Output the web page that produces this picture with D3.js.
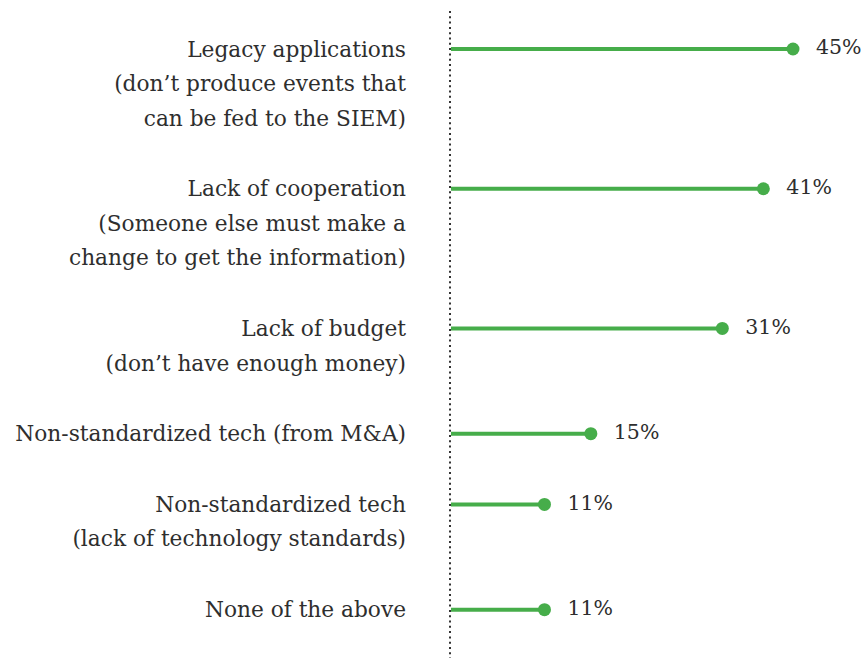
<!DOCTYPE html>
<html>
<head>
<meta charset="utf-8">
<script src="https://cdn.jsdelivr.net/npm/d3@7"></script>
<style>
body { margin: 0; background: #fff; }
text { font-family: "DejaVu Serif", serif; fill: #2e2e2e; }
</style>
</head>
<body>
<div id="chart"></div>
<script>
var categories = [
	["Legacy applications", "(don\u2019t produce events that", "can be fed to the SIEM)"],
	["Lack of cooperation", "(Someone else must make a", "change to get the information)"],
	["Lack of budget", "(don\u2019t have enough money)"],
	["Non-standardized tech (from M&A)"],
	["Non-standardized tech", "(lack of technology standards)"],
	["None of the above"]
];
// bar lengths as drawn in the picture (same units as the 45% bar)
var values = [45, 41.1, 35.7, 18.4, 12.3, 12.3];
var valueLabels = ["45%", "41%", "31%", "15%", "11%", "11%"];

var width = 867, height = 658;
var lineH = 34.5, gap = 1.05;

var svg = d3.select("#chart")
	.append("svg")
	.attr("width", width)
	.attr("height", height);

// cumulative position of each group, in "lines"
var pos = [], acc = 0;
categories.forEach(function(c){
	pos.push(acc);
	acc += c.length + gap;
});

var y = d3.scaleLinear().domain([0, 1]).range([49, 49 + lineH]);
var x = d3.scaleLinear().domain([0, 45]).range([451, 793]);

svg.append("line")
	.attr("x1", 450).attr("x2", 450)
	.attr("y1", 11).attr("y2", height)
	.style("stroke", "#333")
	.style("stroke-width", 2)
	.style("stroke-dasharray", "2,3.3");

var rows = svg.selectAll("g.row")
	.data(categories)
	.enter()
	.append("g")
	.attr("class", "row");

rows.each(function(d, i){
	var g = d3.select(this);
	d.forEach(function(t, j){
		g.append("text")
			.attr("x", 406)
			.attr("y", y(pos[i] + j))
			.attr("dy", "0.35em")
			.attr("text-anchor", "end")
			.style("font-size", "21.7px")
			.text(t);
	});
	g.append("line")
		.attr("x1", x(0)).attr("x2", x(values[i]))
		.attr("y1", y(pos[i])).attr("y2", y(pos[i]))
		.style("stroke", "#46ad4a")
		.style("stroke-width", 4);
	g.append("circle")
		.attr("cx", x(values[i]))
		.attr("cy", y(pos[i]))
		.attr("r", 6.5)
		.style("fill", "#46ad4a");
	g.append("text")
		.attr("x", x(values[i]) + 23)
		.attr("y", y(pos[i]) - 2)
		.attr("dy", "0.35em")
		.style("font-size", "20.5px")
		.text(valueLabels[i]);
});
</script>
</body>
</html>
